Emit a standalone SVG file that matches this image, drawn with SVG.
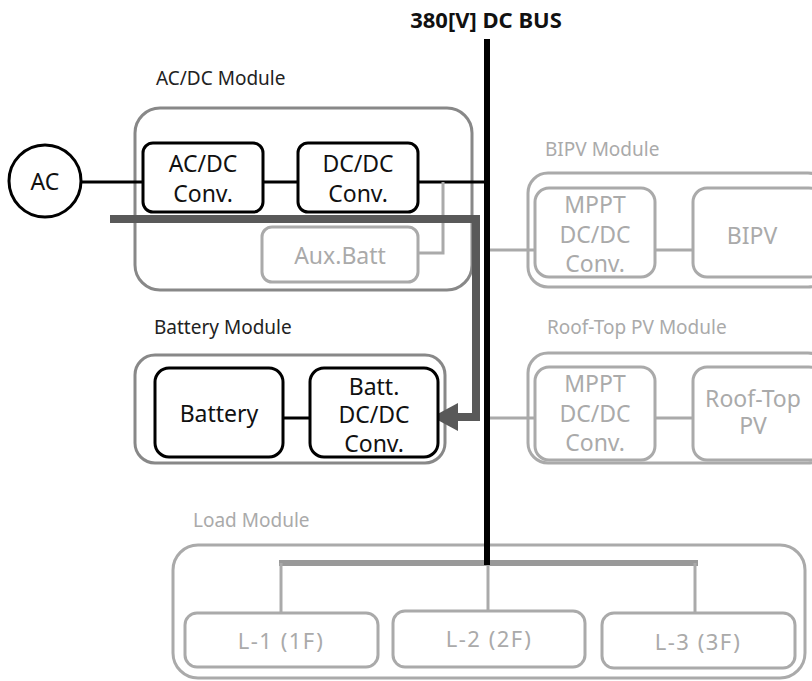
<svg xmlns="http://www.w3.org/2000/svg" width="812" height="681" viewBox="0 0 812 681">
<defs>
<style>
text{font-family:"Noto Sans","Liberation Sans",sans-serif;text-anchor:middle;dominant-baseline:central}
.lbl{font-size:19px;text-anchor:start;fill:#222}
.lblg{font-size:19px;text-anchor:start;fill:#aaa}
.t{font-size:23px;fill:#111}
.tg{font-size:23px;fill:#aaa}
.ld{font-size:22px;fill:#aaa;letter-spacing:1.5px}
.blk{fill:#fff;stroke:#000;stroke-width:3}
.gry{fill:#fff;stroke:#aaa;stroke-width:3}
.modd{fill:none;stroke:#888;stroke-width:3}
.modl{fill:none;stroke:#aaa;stroke-width:3}
.cb{fill:none;stroke:#000;stroke-width:3}
.cg{fill:none;stroke:#aaa;stroke-width:3}
</style>
</defs>
<rect width="812" height="681" fill="#fff"/>

<g id="acdc-module">
<text class="lbl" x="156" y="78">AC/DC Module</text>
<rect class="modd" x="135" y="108" width="337" height="182" rx="25"/>
</g>
<g id="battery-module">
<text class="lbl" x="154" y="327">Battery Module</text>
<rect class="modd" x="135" y="355" width="310" height="108" rx="20"/>
</g>
<g id="bipv-module">
<text class="lblg" x="545" y="149">BIPV Module</text>
<rect class="modl" x="528" y="173" width="300" height="114" rx="20"/>
</g>
<g id="rooftop-module">
<text class="lblg" x="547" y="327">Roof-Top PV Module</text>
<rect class="modl" x="528" y="353" width="300" height="110" rx="20"/>
</g>
<g id="load-module">
<text class="lblg" x="193" y="520">Load Module</text>
<rect class="modl" x="173" y="545" width="632" height="133" rx="25"/>
</g>

<g id="connectors">
<line class="cb" x1="82" y1="182" x2="143" y2="182"/>
<line class="cb" x1="263" y1="182" x2="298" y2="182"/>
<line class="cb" x1="418" y1="182" x2="487" y2="182"/>
<polyline class="cg" points="418,253 443,253 443,182"/>
<line class="cb" x1="283" y1="418" x2="310" y2="418"/>
<line class="cg" x1="487" y1="250" x2="535" y2="250"/>
<line class="cg" x1="655" y1="250" x2="693" y2="250"/>
<line class="cg" x1="487" y1="418" x2="535" y2="418"/>
<line class="cg" x1="655" y1="418" x2="693" y2="418"/>
<polyline fill="none" stroke="#595959" stroke-width="8" points="110,219 476,219 476,417 456,417"/>
<polygon fill="#595959" points="432,417 458,403 458,431"/>
<line stroke="#999" stroke-width="6" x1="279" y1="563" x2="698" y2="563"/>
<line class="cg" x1="281" y1="563" x2="281" y2="613"/>
<line class="cg" x1="488" y1="563" x2="488" y2="611"/>
<line class="cg" x1="695" y1="563" x2="695" y2="613"/>
<line stroke="#000" stroke-width="6" x1="487" y1="39" x2="487" y2="565"/>
</g>

<g id="bus-label">
<text x="486" y="19" font-size="22" font-weight="bold" fill="#111">380[V] DC BUS</text>
</g>

<g id="ac">
<circle cx="45" cy="181" r="36" fill="#fff" stroke="#000" stroke-width="3"/>
<text class="t" x="45" y="181" font-size="28">AC</text>
</g>
<g id="acdc-conv">
<rect class="blk" x="143" y="143" width="120" height="69" rx="10"/>
<text class="t" x="203" y="163" font-size="24">AC/DC</text>
<text class="t" x="203" y="193" font-size="24">Conv.</text>
</g>
<g id="dcdc-conv">
<rect class="blk" x="298" y="143" width="120" height="69" rx="10"/>
<text class="t" x="358" y="163" font-size="24">DC/DC</text>
<text class="t" x="358" y="193" font-size="24">Conv.</text>
</g>
<g id="aux-batt">
<rect class="gry" x="262" y="227" width="156" height="55" rx="10"/>
<text class="tg" x="340" y="255">Aux.Batt</text>
</g>
<g id="battery">
<rect class="blk" x="155" y="368" width="128" height="89" rx="14"/>
<text class="t" x="219" y="413">Battery</text>
</g>
<g id="batt-dcdc">
<rect class="blk" x="310" y="368" width="128" height="89" rx="14"/>
<text class="t" x="374" y="386">Batt.</text>
<text class="t" x="374" y="414">DC/DC</text>
<text class="t" x="374" y="443">Conv.</text>
</g>
<g id="bipv-mppt">
<rect class="gry" x="535" y="188" width="120" height="89" rx="14"/>
<text class="tg" x="595" y="204">MPPT</text>
<text class="tg" x="595" y="234">DC/DC</text>
<text class="tg" x="595" y="263">Conv.</text>
</g>
<g id="bipv">
<rect class="gry" x="693" y="188" width="130" height="89" rx="14"/>
<text class="tg" x="752" y="235">BIPV</text>
</g>
<g id="rooftop-mppt">
<rect class="gry" x="535" y="367" width="120" height="93" rx="14"/>
<text class="tg" x="595" y="383">MPPT</text>
<text class="tg" x="595" y="413">DC/DC</text>
<text class="tg" x="595" y="442">Conv.</text>
</g>
<g id="rooftop-pv">
<rect class="gry" x="693" y="367" width="130" height="93" rx="14"/>
<text class="tg" x="753" y="398" font-size="17">Roof-Top</text>
<text class="tg" x="753" y="425" font-size="17">PV</text>
</g>
<g id="l1">
<rect class="gry" x="185" y="613" width="193" height="54" rx="12"/>
<text class="ld" x="281" y="640">L-1 (1F)</text>
</g>
<g id="l2">
<rect class="gry" x="393" y="611" width="192" height="56" rx="12"/>
<text class="ld" x="489" y="638">L-2 (2F)</text>
</g>
<g id="l3">
<rect class="gry" x="602" y="613" width="193" height="55" rx="12"/>
<text class="ld" x="698" y="641">L-3 (3F)</text>
</g>
</svg>
